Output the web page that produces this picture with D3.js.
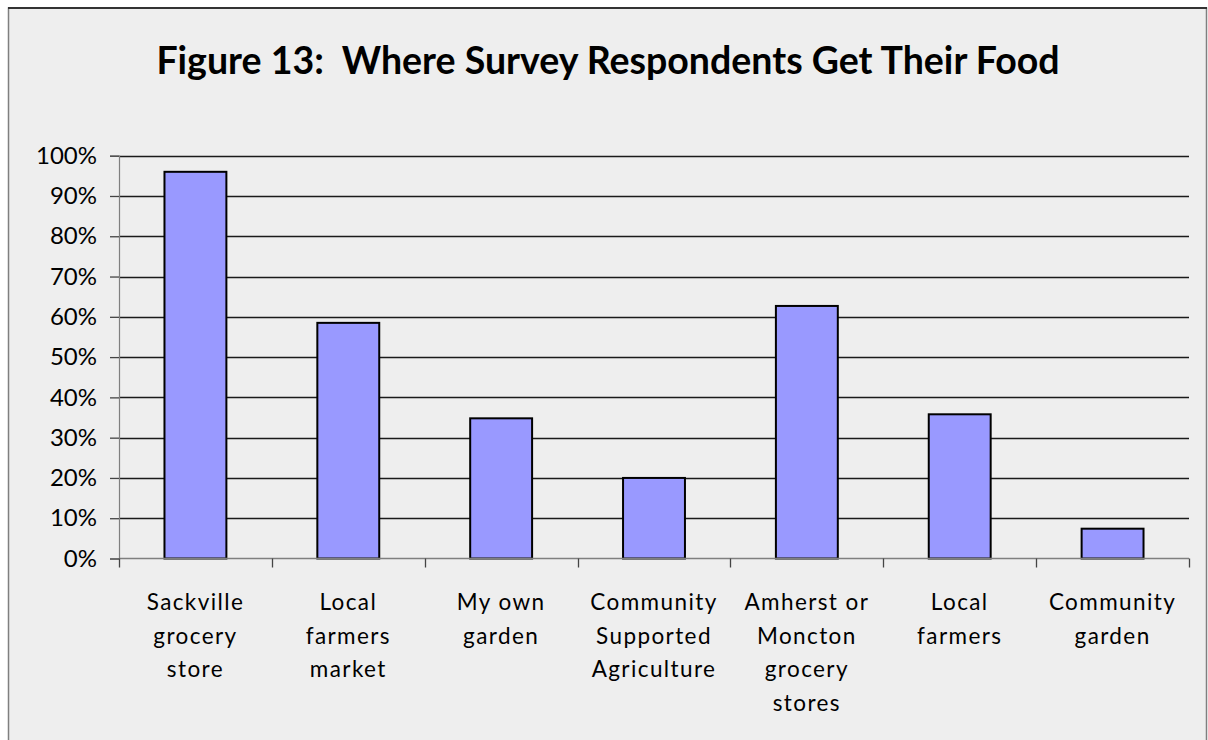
<!DOCTYPE html>
<html>
<head>
<meta charset="utf-8">
<script src="https://cdn.jsdelivr.net/npm/d3@7"></script>
<style>
  html, body { margin: 0; padding: 0; background: #ffffff; }
  svg { display: block; }
  text { font-family: Lato, "Open Sans", "Liberation Sans", sans-serif; fill: #000; }
</style>
</head>
<body>
<svg id="chart" width="1208" height="740"></svg>
<script>
// Survey: where respondents get their food (share of respondents)
const categories = [
  ["Sackville", "grocery", "store"],
  ["Local", "farmers", "market"],
  ["My own", "garden"],
  ["Community", "Supported", "Agriculture"],
  ["Amherst or", "Moncton", "grocery", "stores"],
  ["Local", "farmers"],
  ["Community", "garden"]
];
const shares = [96.0, 58.5, 34.8, 20.0, 62.7, 35.8, 7.4];
const yTicks = [0, 10, 20, 30, 40, 50, 60, 70, 80, 90, 100];
const titleText = "Figure 13:  Where Survey Respondents Get Their Food";

const svg = d3.select("#chart");

// chart frame
svg.append("rect")
  .attr("x", 8.5).attr("y", 8)
  .attr("width", 1198).attr("height", 740)
  .attr("fill", "#eeeeee")
  .attr("stroke", "#7f7f7f").attr("stroke-width", 1.5);
svg.append("line")
  .attr("x1", 8).attr("x2", 1207).attr("y1", 8).attr("y2", 8)
  .attr("stroke", "#333").attr("stroke-width", 2);

svg.append("text")
  .attr("x", 608).attr("y", 74)
  .attr("text-anchor", "middle")
  .attr("font-size", 37.5).attr("font-weight", 700)
  .style("white-space", "pre")
  .text(titleText);

const plot = { left: 119, right: 1189, top: 155.7, bottom: 558.5 };
const keys = categories.map((c, i) => i);

const x = d3.scaleBand()
  .domain(keys)
  .range([plot.left, plot.right])
  .paddingInner(0.595)
  .paddingOuter(0.2975);

const y = d3.scaleLinear()
  .domain([0, 100])
  .range([plot.bottom, plot.top]);

// horizontal gridlines
svg.append("g")
  .selectAll("line")
  .data(yTicks.filter(d => d > 0))
  .join("line")
  .attr("x1", plot.left).attr("x2", plot.right)
  .attr("y1", d => Math.round(y(d)) + 0.5).attr("y2", d => Math.round(y(d)) + 0.5)
  .attr("stroke", "#1a1a1a").attr("stroke-width", 1.3);

// y axis
const yAxis = svg.append("g")
  .attr("transform", `translate(${plot.left},0)`)
  .call(d3.axisLeft(y).tickValues(yTicks).tickSize(9).tickPadding(13).tickFormat(d => d + "%"));
yAxis.select(".domain").attr("stroke", "#7f7f7f").attr("stroke-width", 1.2);
yAxis.selectAll(".tick line").attr("stroke", "#444").attr("stroke-width", 1.3);
yAxis.selectAll(".tick text")
  .attr("font-size", 24).attr("fill", "#000")
  .style("font-family", "Lato, 'Open Sans', sans-serif");

// bars
svg.append("g")
  .selectAll("rect")
  .data(shares)
  .join("rect")
  .attr("x", (d, i) => x(i))
  .attr("y", d => y(d))
  .attr("width", x.bandwidth())
  .attr("height", d => y(0) - y(d))
  .attr("fill", "#9999ff")
  .attr("stroke", "#000").attr("stroke-width", 2);

// x axis baseline and category boundary ticks
const step = x.step();
const boundaries = d3.range(categories.length + 1).map(i => plot.left + i * step);
svg.append("line")
  .attr("x1", plot.left).attr("x2", plot.right)
  .attr("y1", plot.bottom).attr("y2", plot.bottom)
  .attr("stroke", "#7f7f7f").attr("stroke-width", 1.5);
svg.append("g")
  .selectAll("line")
  .data(boundaries)
  .join("line")
  .attr("x1", d => Math.round(d) + 0.5).attr("x2", d => Math.round(d) + 0.5)
  .attr("y1", plot.bottom).attr("y2", plot.bottom + 9)
  .attr("stroke", "#444").attr("stroke-width", 1.3);

// category labels, one tspan per line
const lab = svg.append("g")
  .selectAll("text")
  .data(categories)
  .join("text")
  .attr("text-anchor", "middle")
  .attr("font-size", 22.5)
  .attr("letter-spacing", 1.4)
  .attr("transform", (d, i) => `translate(${x(i) + x.bandwidth() / 2},0)`);
lab.selectAll("tspan")
  .data(d => d)
  .join("tspan")
  .attr("x", 0)
  .attr("y", (d, j) => 610 + j * 33.5)
  .text(d => d);
</script>
</body>
</html>
